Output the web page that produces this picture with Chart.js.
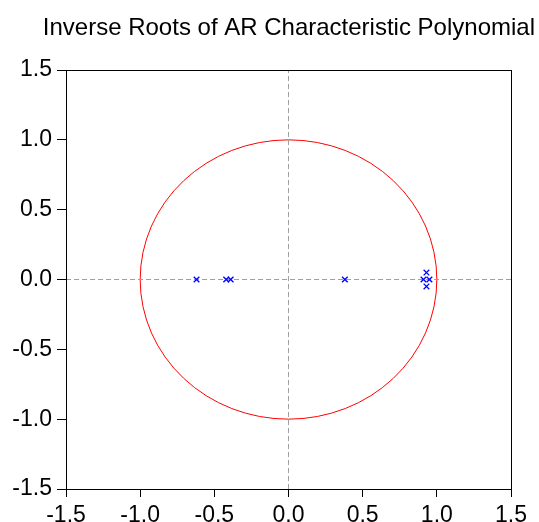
<!DOCTYPE html>
<html>
<head>
<meta charset="utf-8">
<script src="https://cdn.jsdelivr.net/npm/chart.js@4/dist/chart.umd.min.js"></script>
<style>
  html, body { margin: 0; padding: 0; background: #fff; }
  #wrap { width: 539px; height: 522px; }
</style>
</head>
<body>
<div id="wrap"><canvas id="rootsChart"></canvas></div>
<script>
'use strict';

var rootsReal = [-0.62, -0.42, -0.39, 0.38, 0.91, 0.95, 0.93, 0.93];
var rootsImag = [0, 0, 0, 0, 0, 0, 0.05, -0.05];
var axisTicks = [-1.5, -1.0, -0.5, 0.0, 0.5, 1.0, 1.5];
var unitRadius = 1;

var rootPoints = rootsReal.map(function (re, i) {
  return { x: re, y: rootsImag[i] };
});

// unit circle + frame, drawn with the chart's scales
var circlePlugin = {
  id: 'unitCircle',
  beforeDatasetsDraw: function (chart) {
    var c = chart.ctx, xs = chart.scales.x, ys = chart.scales.y;
    var cx = xs.getPixelForValue(0), cy = ys.getPixelForValue(0);
    var rx = Math.abs(xs.getPixelForValue(unitRadius) - cx);
    var ry = Math.abs(ys.getPixelForValue(unitRadius) - cy);
    c.save();
    c.strokeStyle = '#ff0000';
    c.lineWidth = 1;
    c.beginPath();
    c.ellipse(cx, cy, rx, ry, 0, 0, Math.PI * 2);
    c.stroke();
    c.restore();
  },
  afterDraw: function (chart) {
    var a = chart.chartArea, c = chart.ctx;
    c.save();
    c.strokeStyle = '#000';
    c.lineWidth = 1;
    c.strokeRect(Math.round(a.left) + 0.5, Math.round(a.top) + 0.5,
      Math.round(a.right - a.left), Math.round(a.bottom - a.top));
    c.restore();
  }
};

var tickFont = { family: 'Liberation Sans, Arial, sans-serif', size: 23 };

var ctx = document.getElementById('rootsChart').getContext('2d');
var rootsChart = new Chart(ctx, {
  type: 'scatter',
  data: {
    datasets: [
      {
        label: 'roots',
        data: rootPoints,
        pointStyle: 'crossRot',
        pointRadius: 4,
        pointBorderWidth: 1.3,
        borderColor: '#0000ff',
        backgroundColor: '#0000ff'
      },
      {
        label: 'hzero',
        data: [{ x: axisTicks[0], y: 0 }, { x: axisTicks[axisTicks.length - 1], y: 0 }],
        showLine: true,
        pointRadius: 0,
        borderColor: '#a0a0a0',
        borderWidth: 1,
        borderDash: [5, 3]
      },
      {
        label: 'vzero',
        data: [{ x: 0, y: axisTicks[0] }, { x: 0, y: axisTicks[axisTicks.length - 1] }],
        showLine: true,
        pointRadius: 0,
        borderColor: '#a0a0a0',
        borderWidth: 1,
        borderDash: [5, 3]
      }
    ]
  },
  options: {
    responsive: true,
    maintainAspectRatio: false,
    animation: false,
    layout: { padding: { left: 0, right: 4, top: 0, bottom: 0 } },
    plugins: {
      legend: { display: false },
      tooltip: { enabled: false },
      title: {
        display: true,
        align: 'end',
        text: 'Inverse Roots of AR Characteristic Polynomial',
        color: '#000',
        font: { family: 'Liberation Sans, Arial, sans-serif', size: 24, weight: 'normal', lineHeight: 1.2 },
        padding: { top: 14, bottom: 27.2 }
      }
    },
    scales: {
      x: {
        type: 'linear',
        min: -1.5,
        max: 1.5,
        afterBuildTicks: function (s) { s.ticks = axisTicks.map(function (v) { return { value: v }; }); },
        afterFit: function (s) { s.height = 33; },
        ticks: {
          color: '#000',
          font: tickFont,
          padding: 5,
          maxRotation: 0,
          callback: function (v) { return Number(v).toFixed(1); }
        },
        grid: { drawOnChartArea: false, drawTicks: true, tickLength: 8, color: '#000' },
        border: { color: '#000' }
      },
      y: {
        type: 'linear',
        min: -1.5,
        max: 1.5,
        afterBuildTicks: function (s) { s.ticks = axisTicks.map(function (v) { return { value: v }; }); },
        afterFit: function (s) { s.width = 66; },
        ticks: {
          color: '#000',
          font: tickFont,
          padding: 5,
          callback: function (v) { return Number(v).toFixed(1); }
        },
        grid: { drawOnChartArea: false, drawTicks: true, tickLength: 9, color: '#000' },
        border: { color: '#000' }
      },
      // empty right-hand scale, only reserves the right margin
      yRight: {
        type: 'linear',
        position: 'right',
        min: -1.5,
        max: 1.5,
        afterFit: function (s) { s.width = 24; },
        ticks: { display: false },
        grid: { display: false },
        border: { display: false }
      }
    }
  },
  plugins: [circlePlugin]
});
</script>
</body>
</html>
